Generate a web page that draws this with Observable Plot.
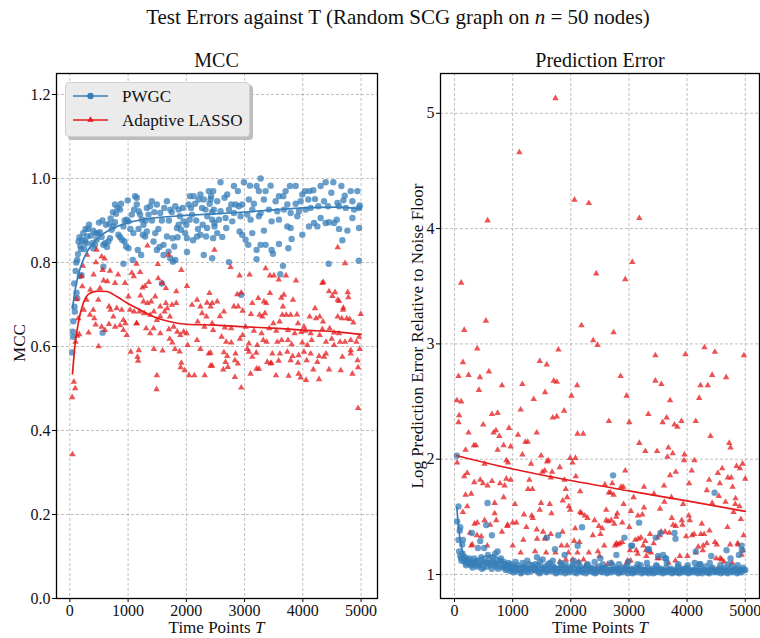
<!DOCTYPE html>
<html>
<head>
<meta charset="utf-8">
<script src="https://cdn.jsdelivr.net/npm/d3@7"></script>
<script src="https://cdn.jsdelivr.net/npm/@observablehq/plot@0.6"></script>
<style>
  html, body { margin: 0; padding: 0; background: #fff; }
  #root { position: relative; width: 760px; height: 638px; overflow: hidden; font-family: "Liberation Serif", "DejaVu Serif", serif; color: #111; }
  .abs { position: absolute; white-space: nowrap; }
  .rot { position: absolute; white-space: nowrap; transform: translate(-50%, -50%) rotate(-90deg); }
</style>
</head>
<body>
<div id="root">
  <div class="abs" style="left:0;width:796px;top:4px;text-align:center;font-size:21px;line-height:26px;">Test Errors against T (Random SCG graph on <i>n</i> = 50 nodes)</div>
  <div class="abs" style="left:56px;width:321px;top:49px;text-align:center;font-size:20px;line-height:22px;">MCC</div>
  <div class="abs" style="left:440px;width:320px;top:49px;text-align:center;font-size:20px;line-height:22px;">Prediction Error</div>
  <div id="left" class="abs" style="left:0;top:63px;"></div>
  <div id="right" class="abs" style="left:390px;top:63px;"></div>
  <div class="rot" style="left:20px;top:343px;font-size:17px;line-height:18px;">MCC</div>
  <div class="rot" style="left:418px;top:336px;font-size:17px;line-height:18px;">Log Prediction Error Relative to Noise Floor</div>
  <div class="abs" style="left:56px;width:321px;top:619px;text-align:center;font-size:17px;line-height:17px;">Time Points <i>T</i></div>
  <div class="abs" style="left:440px;width:320px;top:619px;text-align:center;font-size:17px;line-height:17px;">Time Points <i>T</i></div>
  <div id="legend" class="abs" style="left:65px;top:82px;width:183px;height:53px;background:#ebebeb;border:1px solid #d0d0d0;border-radius:4px;box-shadow:3px 3px 0 #bdbdbd;"></div>
</div>
<script>
// ---------- tick labels / categories ----------
const seriesNames = ["PWGC", "Adaptive LASSO"];
const tTicks = [0, 1000, 2000, 3000, 4000, 5000];
const mccTicks = [0, 0.2, 0.4, 0.6, 0.8, 1.0, 1.2];
const peTicks = [1, 2, 3, 4, 5];

// ---------- MCC: PWGC scatter [T, MCC] ----------
const mccPwgc = [
[40,0.586],[57,0.623],[52,0.635],[60,0.66],[86,0.683],[80,0.695],[126,0.715],[115,0.728],[75,0.75],[172,0.768],[201,0.77],[100,0.78],[110,0.80],[126,0.806],[140,0.82],[190,0.832],[247,0.832],[150,0.85],[165,0.86],[180,0.84],[207,0.854],[230,0.87],[260,0.85],[270,0.88],[287,0.846],[299,0.862],[316,0.88],[330,0.89],[362,0.864],[402,0.876],[385,0.846],[431,0.842],[460,0.854],[402,0.834],[448,0.869],[477,0.87],[500,0.895],[517,0.872],[546,0.861],[560,0.90],[575,0.842],[603,0.846],[620,0.89],[638,0.837],[661,0.85],[690,0.858],[678,0.892],[700,0.905],[747,0.886],[718,0.878],[740,0.92],[776,0.896],[793,0.916],[820,0.93],[833,0.866],[862,0.861],[880,0.94],[897,0.854],[920,0.886],[937,0.85],[940,0.90],[966,0.838],[977,0.902],[1006,0.898],[1040,0.88],[1063,0.914],[1090,0.87],[1103,0.926],[1121,0.958],[994,0.948],[1149,0.938],[1180,0.88],[1184,0.922],[1207,0.914],[1236,0.902],[1264,0.89],[1300,0.90],[1322,0.874],[1351,0.914],[1379,0.934],[1408,0.946],[1410,0.90],[1450,0.92],[1293,0.862],[1253,0.866],[1437,0.85],[1466,0.87],[1494,0.83],[1520,0.88],[1540,0.837],[1580,0.90],[1609,0.818],[1620,0.93],[1667,0.862],[1695,0.826],[1700,0.90],[1724,0.81],[1750,0.92],[1764,0.858],[1770,0.802],[1810,0.806],[1839,0.882],[1850,0.86],[1868,0.89],[1890,0.91],[1908,0.878],[1940,0.93],[1954,0.898],[1980,0.87],[2000,0.89],[2057,0.902],[2080,0.93],[2098,0.914],[2011,0.858],[2115,0.853],[2040,0.938],[2063,0.958],[2126,0.958],[2150,0.94],[2170,0.90],[2200,0.88],[2213,0.95],[2241,0.962],[2270,0.93],[2280,0.89],[2299,0.95],[2360,0.91],[2385,0.97],[2400,0.94],[2425,0.958],[2440,0.92],[2328,0.926],[2356,0.882],[2241,0.866],[2339,0.862],[2460,0.858],[2483,0.894],[2184,0.862],[2011,0.825],[2299,0.818],
[776,0.938],[862,0.926],[1149,0.954],[1322,0.93],[1494,0.938],[1667,0.946],[1810,0.934],[1868,0.926],[1552,0.918],[1724,0.926],
[575,0.79],[563,0.633],[920,0.797],[1080,0.806],[1006,0.834],[1224,0.818],[1167,0.83],[1609,0.842],[1793,0.838],[1580,0.75],
[3275,1.0],[2587,0.991],[2817,0.982],[2989,0.991],[3092,0.983],[3206,0.982],[3246,0.970],[3361,0.970],[3447,0.983],[3779,0.982],[3877,0.982],[4037,0.970],[4112,0.970],[4180,0.972],[4306,0.982],[4392,0.991],[4524,0.991],[4662,0.982],[4822,0.970],[4937,0.970],[2461,0.970],[2702,0.962],[2885,0.970],[3705,0.970],[3590,0.958],[3991,0.962],[4490,0.966],[4719,0.959],
[2416,0.950],[2530,0.946],[2656,0.954],[2771,0.938],[2845,0.938],[2960,0.938],[3074,0.950],[3160,0.940],[3332,0.950],[3533,0.946],[3665,0.958],[3734,0.938],[3877,0.940],[3963,0.946],[4094,0.950],[4209,0.951],[4364,0.946],[4593,0.942],[4696,0.948],[4851,0.946],[4977,0.936],
[2473,0.926],[2587,0.922],[2731,0.926],[2817,0.918],[2902,0.934],[3046,0.914],[3132,0.926],[3275,0.918],[3418,0.926],[3562,0.922],[3676,0.926],[3791,0.918],[3934,0.922],[4048,0.926],[4135,0.930],[4266,0.934],[4432,0.934],[4622,0.934],[4737,0.930],[4880,0.926],[4966,0.930],
[2444,0.902],[2559,0.902],[2674,0.906],[2788,0.898],[2931,0.910],[3103,0.902],[3246,0.910],[3464,0.898],[3590,0.902],[3905,0.910],[4192,0.894],[4306,0.906],[4536,0.894],[4582,0.902],[4851,0.906],
[2484,0.886],[2685,0.882],[2914,0.874],[2960,0.866],[3017,0.854],[3132,0.870],[3332,0.876],[3734,0.886],[3791,0.882],[3991,0.866],[4106,0.886],[4249,0.886],[4392,0.894],[4450,0.896],[4622,0.880],[4765,0.876],[4966,0.882],
[2530,0.870],[2616,0.861],[3063,0.842],[3206,0.830],[3275,0.842],[3361,0.842],[3464,0.830],[3487,0.821],[3590,0.844],[3751,0.834],[3808,0.856],[3206,0.808],[4679,0.853],[2444,0.810],[2731,0.801],[3659,0.792],[3613,0.772],[4444,0.797],[4960,0.804],[2943,0.723]
];

// ---------- MCC: Adaptive LASSO scatter [T, MCC] ----------
const mccLasso = [
[46,0.343],[40,0.479],[92,0.50],[69,0.516],[98,0.611],[126,0.625],[161,0.629],[144,0.667],[115,0.713],[213,0.743],[201,0.767],[224,0.792],[299,0.818],
[241,0.687],[287,0.711],[351,0.735],[408,0.771],[448,0.80],[546,0.814],[598,0.809],[460,0.83],
[322,0.633],[443,0.652],[494,0.60],[402,0.687],[345,0.675],[420,0.667],
[517,0.739],[580,0.757],[563,0.782],[690,0.78],[828,0.771],[644,0.755],[776,0.751],[948,0.751],
[489,0.711],[672,0.695],[701,0.687],[747,0.671],[805,0.691],[891,0.687],[920,0.663],[954,0.655],[1006,0.719],[1034,0.687],[1103,0.683],
[546,0.647],[603,0.639],[672,0.653],[776,0.647],[862,0.65],[920,0.639],[977,0.627],[1144,0.655],
[1063,0.775],[1098,0.767],[1207,0.777],[1144,0.797],[1333,0.84],
[1247,0.74],[1293,0.744],[1356,0.753],[1586,0.751],[1649,0.739],[1511,0.796],[1517,0.762],[1695,0.818],[1828,0.731],[1914,0.782],[2011,0.744],
[1213,0.721],[1264,0.707],[1333,0.703],[1397,0.707],[1466,0.719],[1552,0.695],[1649,0.703],[1672,0.691],[1753,0.699],[1828,0.703],
[1195,0.683],[1276,0.679],[1379,0.675],[1443,0.683],[1494,0.663],[1552,0.672],[1718,0.671],[1626,0.683],
[1149,0.655],[1310,0.643],[1379,0.631],[1437,0.643],[1552,0.631],[1701,0.641],[1782,0.647],[1845,0.635],[1897,0.627],[1954,0.635],
[1046,0.587],[1184,0.591],[1161,0.575],[1172,0.566],[1443,0.594],[1592,0.59],[1494,0.531],[1489,0.498],[1713,0.618],[1759,0.609],[1805,0.594],[1885,0.588],[1914,0.561],[1902,0.55],[1971,0.543],[2046,0.531],[2138,0.531],[2023,0.603],[2006,0.631],
[2098,0.699],[2184,0.711],[2241,0.695],[2195,0.659],[2270,0.679],[2356,0.704],[2397,0.727],[2443,0.703],[2345,0.671],[2460,0.639],
[2184,0.615],[2241,0.594],[2316,0.531],[2443,0.554],[2385,0.583],[2310,0.647],[2483,0.83],
[2759,0.789],[2914,0.769],[3086,0.771],[3361,0.786],[3436,0.769],[3504,0.769],[3585,0.759],[3711,0.769],[3883,0.757],[4599,0.836],[4725,0.798],[4335,0.751],[4352,0.753],
[2874,0.724],[2943,0.728],[3132,0.703],[3235,0.715],[3332,0.707],[3372,0.703],[3436,0.727],[3630,0.716],[3676,0.723],[3831,0.711],[3659,0.695],[4450,0.731],[4507,0.720],[4553,0.729],[4599,0.711],[4622,0.708],[4771,0.729],[4782,0.717],[4696,0.692],[4691,0.687],
[2416,0.695],[2530,0.707],[2645,0.683],[2576,0.672],[2891,0.695],[2966,0.685],[2817,0.695],[3109,0.677],[3258,0.675],[3304,0.671],[3350,0.679],[3493,0.655],[3602,0.659],[3648,0.675],[3716,0.675],[3791,0.675],[3900,0.676],[3917,0.655],[4020,0.647],[4117,0.671],[4209,0.691],[4226,0.667],[4289,0.671],[4347,0.659],[4599,0.671],[4668,0.667],[4754,0.667],[4805,0.665],[4868,0.657],[4994,0.677],
[2444,0.655],[2662,0.645],[2771,0.643],[3017,0.647],[3160,0.637],[3292,0.631],[3424,0.643],[3544,0.637],[3745,0.639],[3860,0.631],[3974,0.634],[4043,0.637],[4135,0.631],[4335,0.641],[4461,0.643],[4536,0.633],[4622,0.631],
[2605,0.623],[2685,0.611],[2771,0.609],[2920,0.618],[2966,0.627],[3074,0.607],[3218,0.603],[3321,0.615],[3378,0.611],[3562,0.611],[3636,0.615],[3745,0.615],[3808,0.605],[3991,0.609],[4077,0.603],[4152,0.615],[4289,0.627],[4398,0.611],[4496,0.618],[4639,0.611],[4725,0.611],[4822,0.615],[4920,0.611],[4966,0.623],
[2416,0.585],[2645,0.586],[2702,0.577],[2845,0.583],[3046,0.594],[3074,0.587],[3200,0.585],[3476,0.583],[3607,0.583],[3734,0.587],[3825,0.577],[3928,0.579],[4020,0.587],[4135,0.583],[4278,0.577],[4398,0.583],[4536,0.603],[4822,0.591],[4977,0.594],
[2416,0.554],[2673,0.563],[2834,0.567],[2885,0.559],[3132,0.575],[3247,0.547],[3390,0.563],[3459,0.561],[3585,0.566],[3791,0.567],[3917,0.561],[4066,0.567],[4249,0.563],[4364,0.575],[4679,0.575],[4822,0.583],[4940,0.567],
[2633,0.545],[2713,0.551],[2834,0.527],[2943,0.502],[3103,0.535],[3206,0.547],[3447,0.559],[3539,0.531],[3756,0.530],[3928,0.535],[3963,0.526],[4055,0.520],[4180,0.545],[4278,0.522],[4450,0.545],[4651,0.543],[4851,0.535],[4949,0.550],[4949,0.453]
];

// ---------- MCC smoothed fits [T, MCC] ----------
const mccPwgcFit = [[46,0.69],[86,0.731],[144,0.77],[230,0.806],[345,0.837],[517,0.862],[747,0.882],[1034,0.896],[1437,0.906],[2000,0.912],[2500,0.916],[3000,0.92],[3560,0.926],[4003,0.93],[4593,0.932],[5000,0.928]];
const mccLassoFit = [[46,0.535],[86,0.60],[144,0.655],[230,0.703],[345,0.727],[489,0.732],[632,0.731],[805,0.719],[977,0.704],[1207,0.687],[1437,0.671],[1724,0.659],[2000,0.653],[2500,0.651],[3000,0.647],[3560,0.643],[4003,0.639],[4593,0.635],[5000,0.629]];

// ---------- Prediction error: PWGC scatter [T, log error] ----------
const pePwgc = [
[40,2.03],[69,1.59],[45,1.46],[98,1.41],[89,1.38],[69,1.30],[144,1.30],[132,1.26],[115,1.14],[155,1.14],[80,1.20],[100,1.16],[120,1.12],[170,1.12],[190,1.10],[210,1.13],[230,1.11],[250,1.09],[270,1.12],[290,1.08],[299,1.36],[320,1.10],[340,1.14],[360,1.09],[380,1.12],[402,1.23],[442,1.29],[420,1.08],[460,1.15],[480,1.11],[511,1.23],[500,1.06],[545,1.43],[568,1.62],[574,1.17],[540,1.10],[600,1.13],[620,1.08],[643,1.34],[660,1.15],[680,1.10],[700,1.18],[720,1.07],[741,1.20],[760,1.12],[780,1.09],[800,1.14],[820,1.06],[850,1.11],[870,1.08],[900,1.05],[930,1.10],[960,1.07],[990,1.04],
[140,1.18],[180,1.15],[200,1.08],[260,1.14],[310,1.06],[350,1.11],[390,1.07],[440,1.10],[470,1.05],[520,1.12],[560,1.07],[590,1.10],[640,1.05],[670,1.12],[710,1.09],[750,1.05],[790,1.12],[840,1.07],[880,1.04],[910,1.08],[950,1.03],[980,1.09],
[1418,1.15],[1516,1.13],[1590,1.32],[1728,1.22],[1785,1.34],[1894,1.17],[2118,1.25],[2193,1.41],[2509,1.14],[2727,1.86],[2784,1.17],[2922,1.32],[3054,1.25],[3175,1.45],[3330,1.22],[3542,1.36],[3640,1.14],[3783,1.36],[3800,1.31],[4150,1.20],[4415,1.16],[4472,1.71],[4747,1.14],[4891,1.17],[4943,1.21],
[3460,1.32],[3586,1.17],[4678,1.21],[4937,1.25],[3040,1.25],[3343,1.22],[3500,1.16],[3620,1.14],[4131,1.10],[4212,1.09],
[1000,1.06],[1040,1.03],[1080,1.08],[1120,1.04],[1160,1.02],[1200,1.07],[1240,1.05],[1280,1.09],[1320,1.03],[1360,1.06],
[1400,1.04],[1440,1.08],[1480,1.02],[1520,1.05],[1560,1.07],[1600,1.03],[1640,1.10],[1680,1.04],[1720,1.06],[1760,1.02],
[1800,1.05],[1840,1.08],[1880,1.03],[1920,1.06],[1960,1.02],[2000,1.04],[2040,1.09],[2080,1.05],[2120,1.03],[2160,1.07],
[2200,1.02],[2240,1.05],[2280,1.08],[2320,1.03],[2360,1.06],[2400,1.04],[2440,1.02],[2480,1.07],[2520,1.05],[2560,1.03],
[2600,1.06],[2640,1.02],[2680,1.04],[2720,1.08],[2760,1.03],[2800,1.05],[2840,1.02],[2880,1.06],[2920,1.04],[2960,1.07],
[3000,1.03],[3040,1.05],[3080,1.02],[3120,1.06],[3160,1.04],[3200,1.08],[3240,1.02],[3280,1.04],[3320,1.06],[3360,1.03],
[3400,1.05],[3440,1.02],[3480,1.07],[3520,1.03],[3560,1.04],[3600,1.02],[3640,1.06],[3680,1.03],[3720,1.05],[3760,1.02],
[3800,1.04],[3840,1.07],[3880,1.02],[3920,1.05],[3960,1.03],[4000,1.06],[4040,1.02],[4080,1.04],[4120,1.03],[4160,1.06],
[4200,1.02],[4240,1.05],[4280,1.03],[4320,1.07],[4360,1.02],[4400,1.04],[4440,1.06],[4480,1.03],[4520,1.02],[4560,1.05],
[4600,1.03],[4640,1.06],[4680,1.02],[4720,1.04],[4760,1.07],[4800,1.03],[4840,1.05],[4880,1.02],[4920,1.04],[4960,1.06],[5000,1.04],
[1020,1.02],[1060,1.05],[1100,1.04],[1140,1.01],[1180,1.06],[1220,1.03],[1260,1.02],[1300,1.05],[1340,1.08],[1380,1.04],
[1420,1.03],[1460,1.01],[1500,1.06],[1540,1.04],[1580,1.02],[1620,1.05],[1660,1.03],[1700,1.07],[1740,1.01],[1780,1.04],
[1820,1.02],[1860,1.04],[1900,1.01],[1940,1.05],[1980,1.03],[2020,1.07],[2060,1.02],[2100,1.01],[2140,1.04],[2180,1.03],
[2220,1.04],[2260,1.01],[2300,1.03],[2340,1.05],[2380,1.02],[2420,1.01],[2460,1.04],[2500,1.03],[2540,1.02],[2580,1.06],
[2620,1.01],[2660,1.04],[2700,1.02],[2740,1.03],[2780,1.05],[2820,1.01],[2860,1.03],[2900,1.02],[2940,1.06],[2980,1.01],
[3020,1.04],[3060,1.01],[3100,1.03],[3140,1.02],[3180,1.05],[3220,1.01],[3260,1.04],[3300,1.02],[3340,1.01],[3380,1.03],
[3420,1.01],[3460,1.04],[3500,1.02],[3540,1.05],[3580,1.01],[3620,1.03],[3660,1.02],[3700,1.04],[3740,1.01],[3780,1.03],
[3820,1.02],[3860,1.01],[3900,1.04],[3940,1.02],[3980,1.05],[4020,1.01],[4060,1.03],[4100,1.02],[4140,1.04],[4180,1.01],
[4220,1.03],[4260,1.01],[4300,1.04],[4340,1.02],[4380,1.01],[4420,1.05],[4460,1.02],[4500,1.03],[4540,1.04],[4580,1.01],
[4620,1.02],[4660,1.04],[4700,1.01],[4740,1.03],[4780,1.02],[4820,1.05],[4860,1.01],[4900,1.03],[4940,1.02],[4980,1.04],
[1050,1.11],[1170,1.10],[1250,1.12],[1390,1.09],[1470,1.11],[1610,1.09],[1690,1.12],[1830,1.10],[1910,1.09],[2050,1.12],[2130,1.10],[2290,1.09],[2410,1.11],[2550,1.09],[2690,1.10],[2830,1.09],[2990,1.11],[3150,1.09],[3310,1.10],[3470,1.08],[3650,1.10],[3850,1.09],[4010,1.08],[4230,1.09],[4390,1.10],[4570,1.08],[4710,1.09],[4870,1.08]
];

// ---------- Prediction error: Adaptive LASSO scatter [T, log error] ----------
const peLasso = [
[1736,5.13],[1115,4.66],[2063,4.25],[2310,4.22],[569,4.07],[2437,3.61],[115,3.53],[540,3.20],[167,3.12],[2184,3.16],[2385,3.03],[2460,2.99],[391,2.96],[1787,2.95],[144,2.84],[1466,2.85],[1586,2.82],[69,2.72],[241,2.73],[437,2.71],[592,2.76],[420,2.60],[816,2.64],[1167,2.65],[1557,2.58],[1707,2.68],[1759,2.67],[2109,2.64],[2011,2.55],[40,2.51],[115,2.50],[1362,2.52],[80,2.38],[69,2.32],[644,2.39],[741,2.40],[1138,2.43],[1690,2.36],[1759,2.37],[1885,2.42],[494,2.30],[241,2.23],[672,2.23],[713,2.25],[937,2.27],[1414,2.23],[2115,2.22],[2213,2.22],[770,2.20],[1092,2.21],[1218,2.15],[1259,2.15],[333,2.12],[368,2.12],[845,2.12],[966,2.11],[190,2.08],[741,2.08],[1167,2.04],[1489,2.03],[45,1.97],[1989,2.01],[2080,2.01],[2029,1.97],[891,1.99],[920,1.97],[517,1.96],[167,1.85],[218,1.88],[1592,1.98],[1615,1.99],[1316,1.96],[1511,1.89],[1552,1.90],[1678,1.89],[1810,1.93],[1655,1.84],[339,1.80],[443,1.82],[489,1.79],[569,1.77],[644,1.81],[782,1.79],[862,1.77],[891,1.83],[966,1.82],[1287,1.82],[1264,1.74],[1339,1.74],[1914,1.74],[2086,1.85],[2161,1.72],[1891,1.82],[190,1.69],[287,1.70],[218,1.59],[144,1.54],[690,1.62],[845,1.67],[1040,1.61],[1195,1.52],[1489,1.62],[1466,1.56],[1638,1.61],[1667,1.53],[1862,1.64],[1937,1.67],[1966,1.59],[1989,1.56],[690,1.53],[718,1.47],[345,1.44],[391,1.45],[914,1.43],[1000,1.45],[1063,1.45],[1328,1.51],[1345,1.49],[2161,1.54],[2184,1.53],[2241,1.51],[2287,1.49],[2408,1.47],[2483,1.42],[264,1.36],[385,1.34],[460,1.33],[615,1.43],[517,1.47],[816,1.37],[908,1.42],[1236,1.41],[1414,1.39],[1523,1.37],[1563,1.32],[1655,1.35],[1856,1.37],[2075,1.40],[2379,1.34],[305,1.26],[563,1.25],[1000,1.25],[1184,1.30],[1420,1.31],[1557,1.31],[1839,1.25],[1937,1.25],[2057,1.29],[2149,1.28],[1138,1.19],[1385,1.20],[1575,1.19],[1736,1.19],[1960,1.19],[2115,1.19],[1810,1.11],[1914,1.13],[2029,1.13],[2138,1.11],[2218,1.13],[2310,1.19],[287,1.25],[2466,1.20],[2322,1.04],[2253,1.08],
[3178,4.09],[3057,3.71],[2937,3.56],[2736,3.10],[4299,2.97],[4477,2.93],[3971,2.91],[4977,2.90],[3454,2.90],[4431,2.73],[4672,2.71],[2856,2.72],[3454,2.68],[3557,2.65],[4230,2.64],[4356,2.64],[2960,2.55],[4207,2.53],[3707,2.51],[3333,2.39],[3649,2.36],[2655,2.33],[3006,2.32],[3580,2.32],[3782,2.30],[3833,2.28],[3902,2.33],[4149,2.33],[4402,2.20],[3178,2.14],[3282,2.07],[3483,2.07],[3678,2.10],[3753,2.05],[4724,2.14],[4747,2.10],[3954,2.04],[3948,1.99],[4126,1.99],[4080,1.90],[3661,2.02],[3805,1.89],[3707,1.86],[2937,1.90],[4851,1.94],[4908,1.92],[4954,1.96],[5000,1.83],[4603,1.92],[4529,1.88],[4701,1.84],[4759,1.84],[4563,1.79],[4379,1.82],[4034,1.79],[4782,1.76],[4339,1.73],[4546,1.68],[4833,1.66],[2586,1.78],[2713,1.79],[2655,1.71],[2684,1.71],[2736,1.69],[2862,1.76],[2902,1.76],[3259,1.76],[3603,1.77],[3730,1.67],[3080,1.67],[3431,1.70],[3931,1.61],[3609,1.63],[4431,1.62],[4661,1.63],[4828,1.61],[4902,1.59],[4799,1.54],[2908,1.61],[3259,1.58],[3534,1.57],[2609,1.56],[3034,1.55],[3230,1.52],[3155,1.51],[2799,1.53],[2782,1.50],[2609,1.47],[2644,1.46],[2695,1.47],[2747,1.44],[2885,1.45],[3006,1.41],[3736,1.49],[3908,1.47],[3920,1.43],[4029,1.51],[4046,1.47],[4253,1.44],[3759,1.43],[4695,1.41],[4925,1.48],[4971,1.34],[4086,1.34],[4121,1.35],[4236,1.35],[4293,1.35],[4385,1.38],[3552,1.37],[3621,1.37],[3695,1.36],[3805,1.42],[2511,1.35],[2540,1.40],[2782,1.27],[2810,1.26],[2845,1.27],[2885,1.28],[2759,1.25],[3109,1.30],[3161,1.31],[3207,1.32],[3282,1.29],[3362,1.35],[3425,1.27],[3489,1.32],[3529,1.34],[3983,1.33],[4190,1.24],[4276,1.25],[4339,1.27],[4477,1.28],[4511,1.26],[4741,1.26],[4868,1.27],[4879,1.26],[2575,1.25],[2494,1.16],[3017,1.21],[3126,1.21],[3293,1.21],[3351,1.20],[3379,1.19],[3247,1.25],[3149,1.18],[3299,1.16],[3489,1.14],[3517,1.14],[3678,1.10],[3799,1.12],[3874,1.16],[4006,1.16],[4149,1.19],[4270,1.21],[4500,1.14],[4569,1.14],[4592,1.13],[4776,1.10],[4632,1.11],[2960,1.10],[2977,1.12],[3029,1.12],[3086,1.03],[3362,1.02],[2701,1.10],[2632,1.09],[2431,1.06],[4937,1.17],[4960,1.21],[4506,1.04]
];

// ---------- Prediction error smoothed fits ----------
const pePwgcFit = [[40,1.58],[80,1.36],[120,1.24],[184,1.15],[299,1.11],[471,1.15],[644,1.165],[816,1.12],[989,1.08],[1333,1.065],[2000,1.065],[2500,1.06],[3000,1.055],[4000,1.05],[5000,1.045]];
const peLassoFit = [[40,2.03],[1000,1.915],[2000,1.815],[3000,1.725],[4000,1.638],[5000,1.548]];

// ---------- drawing ----------
const BLUE = "#377eb8", RED = "#e41a1c";
const GRID = {stroke: "#b0b0b0", strokeOpacity: 1, strokeWidth: 0.8, strokeDasharray: "3,2"};
const baseStyle = {fontFamily: "'Liberation Serif', 'DejaVu Serif', serif", fontSize: "16px", color: "#111", background: "transparent", overflow: "visible"};
const px = d => d[0], py = d => d[1];

function panel({width, marginLeft, marginRight, xDomain, yDomain, yTicks, yFormat, dotsA, dotsB, fitA, fitB, blueOnTop}) {
  const blueDots = Plot.dot(dotsA, {x: px, y: py, r: 3.2, fill: BLUE, fillOpacity: 0.75});
  const redDots = Plot.dot(dotsB, {x: px, y: py, symbol: "triangle", r: 2.4, fill: RED, fillOpacity: 0.75});
  return Plot.plot({
    width, height: 575, marginLeft, marginRight, marginTop: 10, marginBottom: 40,
    style: baseStyle,
    x: {domain: xDomain},
    y: {domain: yDomain},
    marks: [
      Plot.gridX(tTicks, GRID),
      Plot.gridY(yTicks, GRID),
      ...(blueOnTop ? [redDots, blueDots] : [blueDots, redDots]),
      Plot.line(fitA, {x: px, y: py, stroke: BLUE, strokeWidth: 1.7, curve: "monotone-x"}),
      Plot.line(fitB, {x: px, y: py, stroke: RED, strokeWidth: 1.7, curve: "monotone-x"}),
      Plot.axisX({ticks: tTicks, tickFormat: d => String(d), tickSize: 4, tickPadding: 2, label: null, stroke: "#000"}),
      Plot.axisY({ticks: yTicks, tickFormat: yFormat, tickSize: 4, tickPadding: 2, label: null, stroke: "#000"}),
      Plot.frame({stroke: "#000", strokeWidth: 1.3})
    ]
  });
}

document.getElementById("left").append(panel({
  width: 390, marginLeft: 56, marginRight: 13,
  xDomain: [-229, 5282], yDomain: [0, 1.25], yTicks: mccTicks, yFormat: d3.format(".1f"),
  dotsA: mccPwgc, dotsB: mccLasso, fitA: mccPwgcFit, fitB: mccLassoFit, blueOnTop: false
}));
document.getElementById("right").append(panel({
  width: 370, marginLeft: 50, marginRight: 1,
  xDomain: [-241, 5245], yDomain: [0.792, 5.345], yTicks: peTicks, yFormat: d => String(d),
  dotsA: pePwgc, dotsB: peLasso, fitA: pePwgcFit, fitB: peLassoFit, blueOnTop: true
}));

// legend
const lg = d3.select("#legend").append("svg").attr("width", 183).attr("height", 53);
[[BLUE, "circle"], [RED, "triangle"]].forEach(([c, s], i) => {
  const y = 13 + i * 24;
  lg.append("line").attr("x1", 7).attr("x2", 42).attr("y1", y).attr("y2", y).attr("stroke", c).attr("stroke-width", 1.5);
  if (s === "circle") lg.append("circle").attr("cx", 24.5).attr("cy", y).attr("r", 3.2).attr("fill", c);
  else lg.append("path").attr("d", d3.symbol(d3.symbolTriangle, 18)()).attr("transform", `translate(24.5,${y})`).attr("fill", c);
  lg.append("text").attr("x", 56).attr("y", y + 6).attr("font-size", 17).attr("font-family", "'Liberation Serif', serif").attr("fill", "#111").text(seriesNames[i]);
});
</script>
</body>
</html>
